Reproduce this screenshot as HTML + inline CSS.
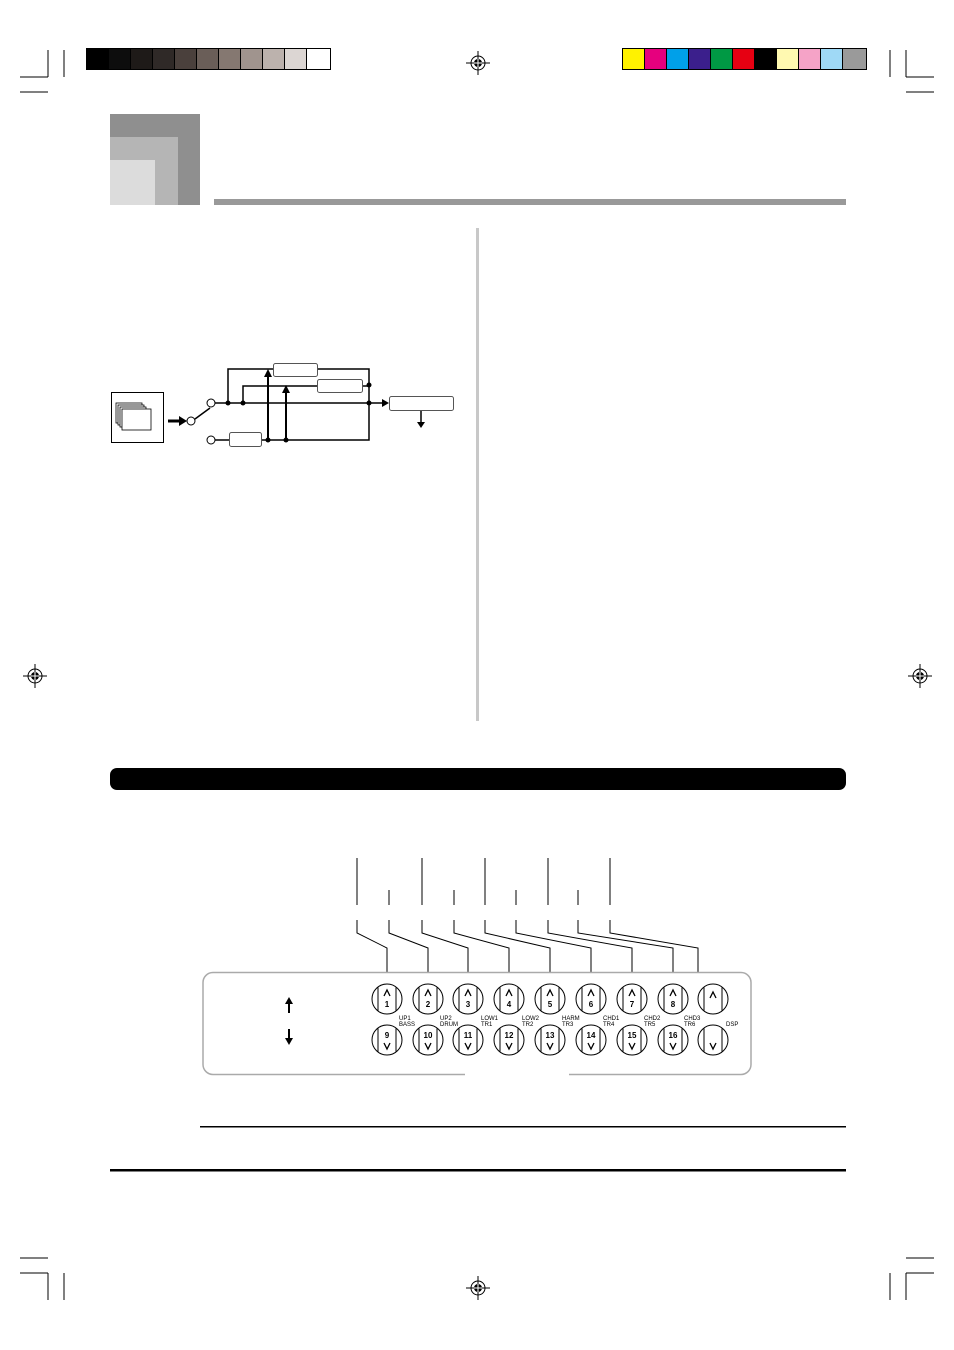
<!DOCTYPE html>
<html><head><style>body{margin:0;background:#fff}svg{display:block}text{font-family:"Liberation Sans",sans-serif}</style></head><body>
<svg width="954" height="1350" viewBox="0 0 954 1350" xmlns="http://www.w3.org/2000/svg">
<defs>
<g id="reg"><circle r="7" fill="none" stroke="#000" stroke-width="1"/><circle r="4" fill="#000"/><path d="M-12 0H12M0 -12V12" stroke="#000" stroke-width="1"/><path d="M-4 0H4M0 -4V4" stroke="#fff" stroke-width="1"/></g>
<g id="btn"><circle r="15" fill="#fff" stroke="#000" stroke-width="1"/><path d="M-9 -12V12M9 -12V12" stroke="#000" stroke-width="1"/></g>
<path id="up" d="M-3 2L0 -4L3 2" fill="none" stroke="#000" stroke-width="1.3"/>
<path id="dn" d="M-3 -2L0 4L3 -2" fill="none" stroke="#000" stroke-width="1.3"/>
</defs>
<g stroke="#000" stroke-width="1">
<path d="M48 50V77M20 77H48M64 50V77M20 92H48"/>
<path d="M906 50V77M906 77H934M890 50V77M906 92H934"/>
<path d="M48 1273V1300M20 1273H48M64 1273V1300M20 1258H48"/>
<path d="M906 1273V1300M906 1273H934M890 1273V1300M906 1258H934"/>
</g>
<use href="#reg" x="478" y="63"/><use href="#reg" x="35" y="676"/><use href="#reg" x="920" y="676"/><use href="#reg" x="478" y="1288"/>
<g stroke="#000" stroke-width="1">
<rect x="86.5" y="48.5" width="22" height="21" fill="#000"/>
<rect x="108.5" y="48.5" width="22" height="21" fill="#0d0d0d"/>
<rect x="130.5" y="48.5" width="22" height="21" fill="#1e1a18"/>
<rect x="152.5" y="48.5" width="22" height="21" fill="#2f2927"/>
<rect x="174.5" y="48.5" width="22" height="21" fill="#4a403c"/>
<rect x="196.5" y="48.5" width="22" height="21" fill="#6a5e58"/>
<rect x="218.5" y="48.5" width="22" height="21" fill="#857871"/>
<rect x="240.5" y="48.5" width="22" height="21" fill="#a0948e"/>
<rect x="262.5" y="48.5" width="22" height="21" fill="#bcb2ad"/>
<rect x="284.5" y="48.5" width="22" height="21" fill="#dcd6d3"/>
<rect x="306.5" y="48.5" width="24" height="21" fill="#fff"/>
<rect x="622.5" y="48.5" width="22" height="21" fill="#fff200"/>
<rect x="644.5" y="48.5" width="22" height="21" fill="#e6007e"/>
<rect x="666.5" y="48.5" width="22" height="21" fill="#00a0e9"/>
<rect x="688.5" y="48.5" width="22" height="21" fill="#3b1f8c"/>
<rect x="710.5" y="48.5" width="22" height="21" fill="#009944"/>
<rect x="732.5" y="48.5" width="22" height="21" fill="#e60012"/>
<rect x="754.5" y="48.5" width="22" height="21" fill="#000"/>
<rect x="776.5" y="48.5" width="22" height="21" fill="#fff9b1"/>
<rect x="798.5" y="48.5" width="22" height="21" fill="#f5a3c7"/>
<rect x="820.5" y="48.5" width="22" height="21" fill="#9fd9f6"/>
<rect x="842.5" y="48.5" width="24" height="21" fill="#9a9a9a"/>
</g>
<rect x="110" y="114" width="90" height="91" fill="#8f8f8f"/>
<rect x="110" y="137" width="68" height="68" fill="#b5b5b5"/>
<rect x="110" y="160" width="45" height="45" fill="#dcdcdc"/>
<rect x="214" y="199" width="632" height="6" fill="#999"/>
<rect x="476" y="228" width="3" height="493" fill="#c8c8c8"/>
<rect x="111.5" y="392.5" width="52" height="50" fill="#fff" stroke="#000"/>
<g fill="#fff" stroke="#000" stroke-width="0.8">
<rect x="116" y="403" width="26" height="20"/><rect x="118" y="405" width="26" height="20"/><rect x="120" y="407" width="26" height="20"/><rect x="122" y="409" width="29" height="21"/>
</g>
<path d="M168 421H180" stroke="#000" stroke-width="3"/><path d="M179 416L187 421L179 426z" fill="#000"/>
<g fill="none" stroke="#000" stroke-width="1.5">
<path d="M195 419L210 408"/>
<path d="M215 403H382"/>
<path d="M228 403V369H369V403"/>
<path d="M243 403V386H369"/>
<path d="M215 440H369V403"/>
<path d="M268 440V376M286 440V392" stroke-width="2"/>
<path d="M421 410V423"/>
</g>
<path d="M382 399L389 403L382 407z" fill="#000"/>
<path d="M264 377L268 369L272 377z" fill="#000"/><path d="M282 393L286 385L290 393z" fill="#000"/>
<path d="M417 422L421 428L425 422z" fill="#000"/>
<g fill="#000"><circle cx="228" cy="403" r="2.5"/><circle cx="243" cy="403" r="2.5"/><circle cx="369" cy="385" r="2.5"/><circle cx="369" cy="403" r="2.5"/><circle cx="268" cy="440" r="2.5"/><circle cx="286" cy="440" r="2.5"/></g>
<g fill="#fff" stroke="#000" stroke-width="1"><circle cx="191" cy="421" r="4"/><circle cx="211" cy="403" r="4"/><circle cx="211" cy="440" r="4"/></g>
<g fill="#fff" stroke="#555" stroke-width="1">
<rect x="273.5" y="363.5" width="44" height="13" rx="2"/>
<rect x="317.5" y="379.5" width="45" height="13" rx="2"/>
<rect x="389.5" y="396.5" width="64" height="14" rx="2"/>
<rect x="229.5" y="432.5" width="32" height="14" rx="2"/>
</g>
<rect x="110" y="768" width="736" height="22" rx="7" fill="#000"/>
<g fill="none" stroke="#000" stroke-width="1">
<path d="M357 858V905M422 858V905M485 858V905M548 858V905M610 858V905"/>
<path d="M389 890V905M454 890V905M516 890V905M578 890V905"/>
<path d="M357 920V933L387 948V985"/>
<path d="M389 920V933L428 948V985"/>
<path d="M422 920V933L468 948V985"/>
<path d="M454 920V933L509 948V985"/>
<path d="M485 920V933L550 948V985"/>
<path d="M516 920V933L591 948V985"/>
<path d="M548 920V933L632 948V985"/>
<path d="M578 920V933L673 948V985"/>
<path d="M610 920V933L698 948V985"/>
</g>
<path d="M465 1074.5H213a10 10 0 0 1-10-10V982.5a10 10 0 0 1 10-10H741a10 10 0 0 1 10 10V1064.5a10 10 0 0 1-10 10H569" fill="#fff" stroke="#aaa" stroke-width="1.5"/>
<path d="M289 1013V1003" stroke="#000" stroke-width="2"/><path d="M285 1004L289 997L293 1004z" fill="#000"/>
<path d="M289 1029V1039" stroke="#000" stroke-width="2"/><path d="M285 1038L289 1045L293 1038z" fill="#000"/>
<g font-size="8" font-weight="bold" text-anchor="middle">
<use href="#btn" x="387" y="999"/><use href="#up" x="387" y="994"/><text x="387" y="1007">1</text>
<use href="#btn" x="428" y="999"/><use href="#up" x="428" y="994"/><text x="428" y="1007">2</text>
<use href="#btn" x="468" y="999"/><use href="#up" x="468" y="994"/><text x="468" y="1007">3</text>
<use href="#btn" x="509" y="999"/><use href="#up" x="509" y="994"/><text x="509" y="1007">4</text>
<use href="#btn" x="550" y="999"/><use href="#up" x="550" y="994"/><text x="550" y="1007">5</text>
<use href="#btn" x="591" y="999"/><use href="#up" x="591" y="994"/><text x="591" y="1007">6</text>
<use href="#btn" x="632" y="999"/><use href="#up" x="632" y="994"/><text x="632" y="1007">7</text>
<use href="#btn" x="673" y="999"/><use href="#up" x="673" y="994"/><text x="673" y="1007">8</text>
<use href="#btn" x="713" y="999"/><use href="#up" x="713" y="996"/>
<use href="#btn" x="387" y="1040"/><text x="387" y="1038">9</text><use href="#dn" x="387" y="1045"/>
<use href="#btn" x="428" y="1040"/><text x="428" y="1038">10</text><use href="#dn" x="428" y="1045"/>
<use href="#btn" x="468" y="1040"/><text x="468" y="1038">11</text><use href="#dn" x="468" y="1045"/>
<use href="#btn" x="509" y="1040"/><text x="509" y="1038">12</text><use href="#dn" x="509" y="1045"/>
<use href="#btn" x="550" y="1040"/><text x="550" y="1038">13</text><use href="#dn" x="550" y="1045"/>
<use href="#btn" x="591" y="1040"/><text x="591" y="1038">14</text><use href="#dn" x="591" y="1045"/>
<use href="#btn" x="632" y="1040"/><text x="632" y="1038">15</text><use href="#dn" x="632" y="1045"/>
<use href="#btn" x="673" y="1040"/><text x="673" y="1038">16</text><use href="#dn" x="673" y="1045"/>
<use href="#btn" x="713" y="1040"/><use href="#dn" x="713" y="1045"/>
</g>
<g font-size="6" fill="#000">
<text x="399" y="1020">UP1</text><text x="399" y="1026">BASS</text>
<text x="440" y="1020">UP2</text><text x="440" y="1026">DRUM</text>
<text x="481" y="1020">LOW1</text><text x="481" y="1026">TR1</text>
<text x="522" y="1020">LOW2</text><text x="522" y="1026">TR2</text>
<text x="562" y="1020">HARM</text><text x="562" y="1026">TR3</text>
<text x="603" y="1020">CHD1</text><text x="603" y="1026">TR4</text>
<text x="644" y="1020">CHD2</text><text x="644" y="1026">TR5</text>
<text x="684" y="1020">CHD3</text><text x="684" y="1026">TR6</text>
<text x="726" y="1026">DSP</text>
</g>
<rect x="200" y="1126" width="646" height="1.5" fill="#000"/>
<rect x="110" y="1169" width="736" height="2.5" fill="#000"/>
</svg>
</body></html>
